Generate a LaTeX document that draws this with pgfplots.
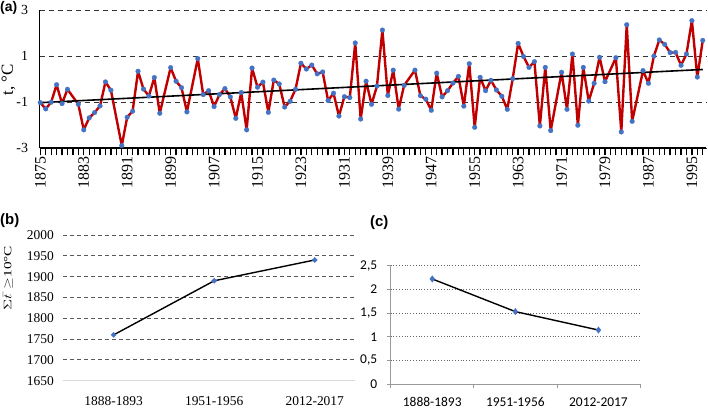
\documentclass[border=0pt]{standalone}
\usepackage{fontspec}
\setmainfont{Liberation Serif}
\newfontfamily\arialfont{Liberation Sans}
\newfontfamily\calibrifont{Carlito}
\usepackage{pgfplots}
\usepackage{pgfplotstable}
\pgfplotsset{compat=1.18}
\definecolor{dred}{RGB}{192,0,0}
\definecolor{mblue}{RGB}{68,114,196}

\pgfplotstableread{
year t
1875 -1.02
1876 -1.29
1877 -1.00
1878 -0.24
1879 -1.06
1880 -0.44
1882 -1.09
1883 -2.20
1884 -1.68
1885 -1.45
1886 -1.16
1887 -0.12
1888 -0.48
1890 -2.88
1891 -1.65
1892 -1.39
1893 0.34
1894 -0.43
1895 -0.73
1896 0.07
1897 -1.48
1899 0.50
1900 -0.09
1901 -0.37
1902 -1.42
1904 0.89
1905 -0.67
1906 -0.50
1907 -1.19
1908 -0.67
1909 -0.41
1910 -0.77
1911 -1.70
1912 -0.58
1913 -2.20
1914 0.48
1915 -0.35
1916 -0.13
1917 -1.44
1918 -0.04
1919 -0.21
1920 -1.21
1921 -0.96
1922 -0.44
1923 0.69
1924 0.44
1925 0.61
1926 0.23
1927 0.31
1928 -0.93
1929 -0.61
1930 -1.60
1931 -0.76
1932 -0.80
1933 1.57
1934 -1.73
1935 -0.09
1936 -1.09
1937 -0.30
1938 2.13
1939 -0.71
1940 0.39
1941 -1.30
1942 -0.27
1944 0.39
1945 -0.72
1946 -0.87
1947 -1.35
1948 0.26
1949 -0.77
1950 -0.50
1951 -0.17
1952 0.12
1953 -1.17
1954 0.67
1955 -2.09
1956 0.08
1957 -0.50
1958 -0.05
1959 -0.47
1960 -0.74
1961 -1.31
1962 0.02
1963 1.55
1964 0.98
1965 0.51
1966 0.76
1967 -2.03
1968 0.51
1969 -2.23
1971 0.30
1972 -1.31
1973 1.09
1974 -2.00
1975 0.51
1976 -0.95
1977 -0.18
1978 0.95
1979 -0.11
1981 0.93
1982 -2.29
1983 2.36
1984 -1.83
1986 0.37
1987 -0.18
1988 1.00
1989 1.70
1990 1.51
1991 1.15
1992 1.16
1993 0.60
1994 1.09
1995 2.54
1996 0.09
1997 1.68
}\tempdata

\begin{document}
\begin{tikzpicture}
\useasboundingbox (0,0) rectangle (708bp,410bp);
% ---------- panel (a)
\begin{axis}[
  at={(39.5bp,261.7bp)}, anchor=south west, scale only axis,
  width=666.5bp, height=138.3bp,
  xmin=1874.85, xmax=1997.6, ymin=-3, ymax=3,
  axis lines*=left,
  axis line style={black, line width=1.8bp},
  ytick={-3,-1,1,3}, yticklabels={-3,-1,1,3},
  ymajorgrids,
  grid style={black!80, line width=1bp, dash pattern=on 5bp off 4bp},
  xtick={1875,1883,1891,1899,1907,1915,1923,1931,1939,1947,1955,1963,1971,1979,1987,1995},
  xticklabels={1875,1883,1891,1899,1907,1915,1923,1931,1939,1947,1955,1963,1971,1979,1987,1995},
  minor xtick={1875,...,1997},
  tick align=outside,
  major tick length=7bp, minor tick length=7bp,
  xtick style={black, line width=1.3bp},
  every minor tick/.append style={line width=1.3bp, black},
  ytick style={draw=none},
  xticklabel style={rotate=90, anchor=east, inner sep=1bp, font=\fontsize{16}{16}\selectfont},
  yticklabel style={font=\fontsize{14}{14}\selectfont, xshift=-1bp},
  clip=false,
]
\addplot[dred, line width=2.4bp, line join=round, mark=*, mark size=2.4bp,
  mark options={fill=mblue, draw=mblue, line width=0.2bp}] table[x=year, y=t] {\tempdata};
\addplot[black, line width=1.6bp] coordinates {(1875,-1.02) (1997,0.42)};
\end{axis}
% ---------- panel (b)
\begin{axis}[
  at={(63.3bp,29.3bp)}, anchor=south west, scale only axis,
  width=291.7bp, height=145.7bp,
  xmin=-0.5, xmax=2.4, ymin=1650, ymax=2000,
  axis lines*=left,
  x axis line style={black!15, line width=0.8bp},
  y axis line style={draw=none},
  xtick={0,1,2}, xticklabels={1888-1893,1951-1956,2012-2017},
  ytick={1700,1750,...,2000},
  extra y ticks={1650}, extra y tick style={grid=none},
  ymajorgrids,
  grid style={black!65, line width=0.9bp, dash pattern=on 4bp off 3bp},
  major tick length=0pt,
  /pgf/number format/assume math mode=true,
  /pgf/number format/set thousands separator={},
  xticklabel style={font=\fontsize{13.5}{13.5}\selectfont, yshift=-12bp},
  yticklabel style={font=\fontsize{13.5}{13.5}\selectfont, xshift=-6bp},
  clip=false,
]
\addplot[black, line width=1.4bp, mark=*, mark size=1.9bp,
  mark options={fill=mblue, draw=mblue}] coordinates {(0,1760) (1,1890) (2,1940)};
\end{axis}
% ---------- panel (c)
\begin{axis}[
  at={(390.7bp,26bp)}, anchor=south west, scale only axis,
  width=249.3bp, height=118.3bp,
  xmin=-0.5, xmax=2.5, ymin=0, ymax=2.5,
  axis lines*=left,
  axis line style={black!40, line width=0.8bp},
  xtick={-0.5,0.5,1.5,2.5}, xticklabels={},
  extra x ticks={0,1,2}, extra x tick labels={1888-1893,1951-1956,2012-2017},
  extra x tick style={major tick length=0pt, grid=none},
  ytick={0,0.5,1,1.5,2,2.5}, yticklabels={0,{0,5},1,{1,5},2,{2,5}},
  ymajorgrids,
  grid style={black!60, line width=0.8bp, dotted},
  tick align=outside, major tick length=4bp,
  tick style={black!40, line width=0.8bp},
  xticklabel style={font=\calibrifont\fontsize{13.5}{13.5}\selectfont, yshift=-10bp},
  yticklabel style={font=\calibrifont\fontsize{13.5}{13.5}\selectfont, xshift=-6bp},
  clip=false,
]
\addplot[black, line width=1.4bp, mark=diamond*, mark size=2.4bp,
  mark options={fill=mblue, draw=mblue}] coordinates {(0,2.22) (1,1.53) (2,1.14)};
\end{axis}
% ---------- labels
\node[anchor=north west, inner sep=0pt, font=\arialfont\bfseries\fontsize{14}{14}\selectfont] at (0bp,409bp) {(a)};
\node[anchor=north west, inner sep=0pt, font=\arialfont\bfseries\fontsize{15}{15}\selectfont] at (0bp,197bp) {(b)};
\node[anchor=north west, inner sep=0pt, font=\arialfont\bfseries\fontsize{15}{15}\selectfont] at (370bp,195bp) {(c)};
\node[rotate=90, inner sep=0pt, font=\fontsize{17}{17}\selectfont] at (8.5bp,330bp) {t, °C};
\node[rotate=90, inner sep=0pt, font=\fontsize{11}{11}\selectfont] at (8bp,132bp) {\scalebox{1.4}[1]{$\Sigma\bar{t}\geq$10°C}};
\end{tikzpicture}
\end{document}
